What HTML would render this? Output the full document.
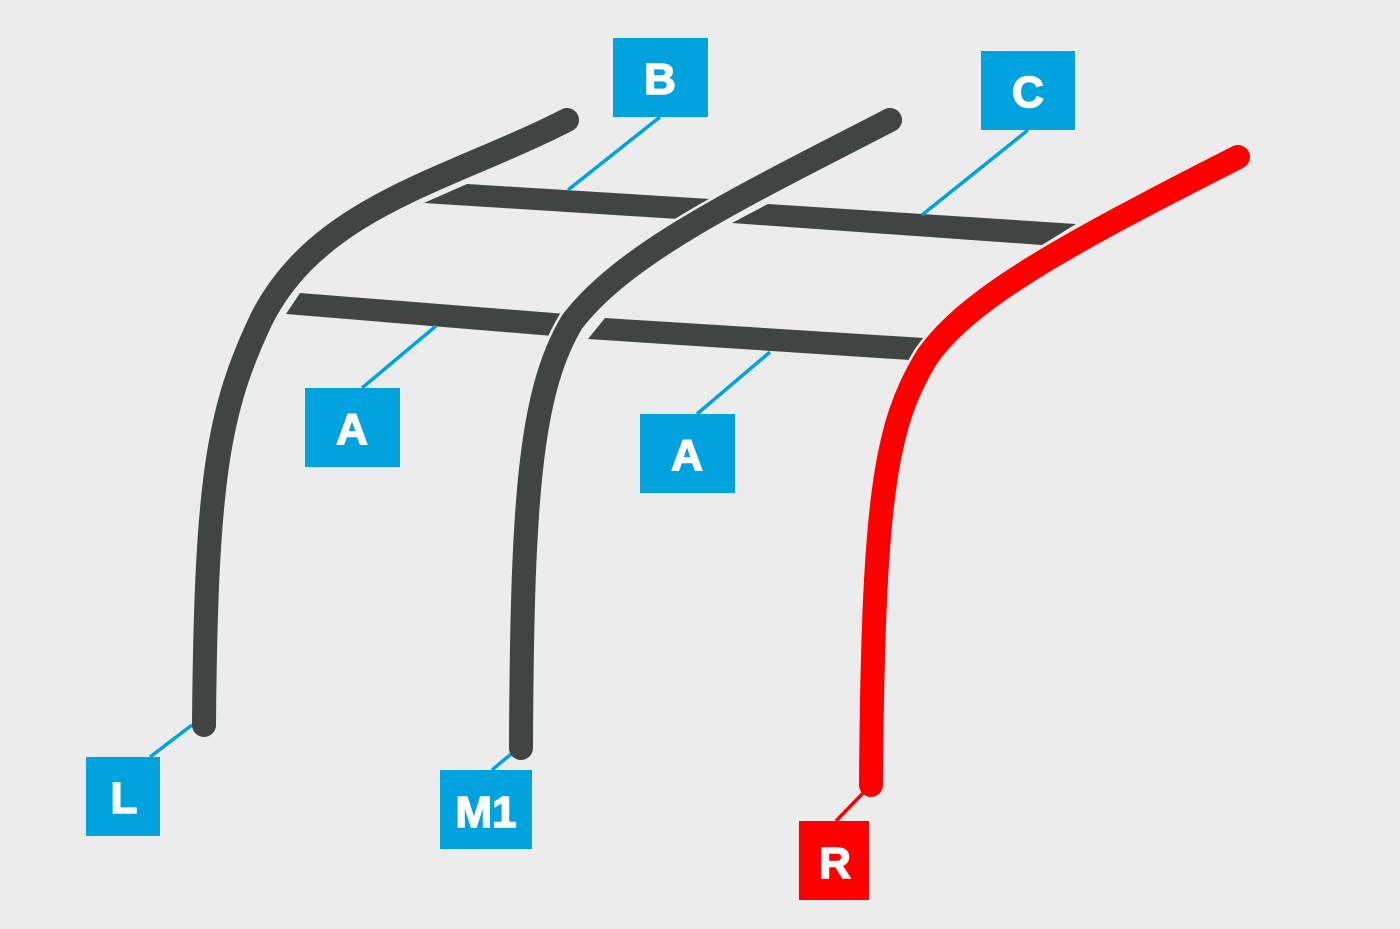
<!DOCTYPE html>
<html><head><style>
html,body{margin:0;padding:0;background:#ececec;}
svg{display:block}
text{font-family:"Liberation Sans",sans-serif;font-weight:bold;fill:#fff;stroke:#fff;stroke-width:1.5;text-anchor:middle}
</style></head><body>
<svg width="1400" height="929" viewBox="0 0 1400 929" xmlns="http://www.w3.org/2000/svg">
<rect width="1400" height="929" fill="#ececec"/>
<g fill="#404443">
<polygon points="467,184 710,199 678,219 424,203"/>
<polygon points="768,204 1076,224 1042,245 732,223"/>
<polygon points="300,293 566,314 553,336 286,314"/>
<polygon points="605,318 924,338 910,360 588,339"/>
</g>
<g fill="none" stroke-linecap="round" stroke="#ececec" stroke-width="29">
<path d="M567,120 C450,180 320,205 262,318 C218,410 206,480 204,725"/>
<path d="M890,120 C745,195 625,252 572,322 C530,392 522,500 521,748"/>
<path d="M1238,157 C1065,245 968,298 927,357 C885,425 873,500 871,785"/>
</g>
<g stroke="#00a3de" stroke-width="3.5">
<line x1="660" y1="117" x2="568" y2="190"/>
<line x1="1028" y1="130" x2="922" y2="215"/>
<line x1="362" y1="388" x2="436" y2="326"/>
<line x1="697" y1="414" x2="770" y2="352"/>
<line x1="150" y1="757" x2="192" y2="725"/>
<line x1="492" y1="770" x2="516" y2="750"/>
</g>
<line x1="836" y1="821" x2="870" y2="786" stroke="#ff0000" stroke-width="3.5"/>
<g fill="none" stroke-linecap="round" stroke-width="24">
<path d="M567,120 C450,180 320,205 262,318 C218,410 206,480 204,725" stroke="#404443"/>
<path d="M890,120 C745,195 625,252 572,322 C530,392 522,500 521,748" stroke="#404443"/>
<path d="M1238,157 C1065,245 968,298 927,357 C885,425 873,500 871,785" stroke="#ff0000"/>
</g>
<g fill="#00a3de">
<rect x="613" y="38" width="95" height="79"/>
<rect x="981" y="51" width="94" height="79"/>
<rect x="305" y="388" width="95" height="79"/>
<rect x="640" y="414" width="95" height="79"/>
<rect x="86" y="757" width="74" height="79"/>
<rect x="440" y="770" width="92" height="79"/>
</g>
<rect x="799" y="821" width="70" height="79" fill="#ff0000"/>
<text x="660" y="94" font-size="44">B</text>
<text x="1028" y="107" font-size="44">C</text>
<text x="352" y="444" font-size="44">A</text>
<text x="687" y="470" font-size="44">A</text>
<text x="124" y="813" font-size="44">L</text>
<text x="486" y="827" font-size="44">M1</text>
<text x="835" y="878" font-size="44">R</text>
</svg>
</body></html>
